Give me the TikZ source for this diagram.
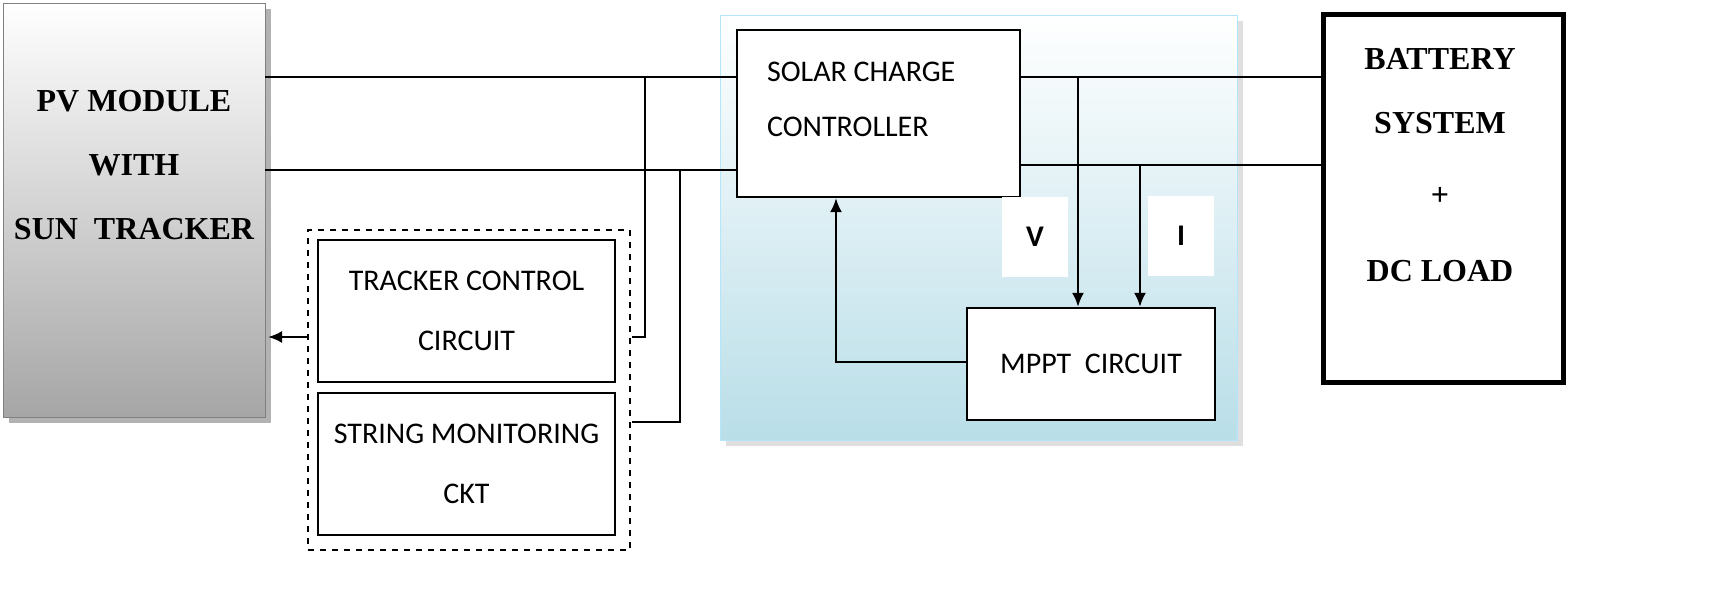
\documentclass[tikz,border=0pt]{standalone}
\usepackage{fontspec}
\setmainfont{Carlito}
\newfontfamily\bserif{Liberation Serif}
\usetikzlibrary{arrows.meta}
\definecolor{pbl}{RGB}{185,222,232}
\begin{document}
\begin{tikzpicture}[x=0.5pt,y=-0.5pt,
  wire/.style={line width=1.2pt},
  blk/.style={draw,line width=1.1pt,fill=white},
  lbl/.style={font=\fontsize{15}{18}\selectfont,align=center},
  blbl/.style={font=\bserif\bfseries\fontsize{16}{18}\selectfont},
  arr/.style={wire,-{Latex[length=7pt,width=6pt]}}]
% PV module
\fill[gray!60] (9,9) rectangle (271,423);
\node[draw=gray,top color=white,bottom color=gray!70,minimum width=131pt,minimum height=207pt,inner sep=0pt] (pv) at (134,210) {};
\node[blbl,align=center] (pvt) at (134,165) {PV MODULE\\[14pt]WITH\\[14pt]SUN\ \ TRACKER};
% blue panel
\fill[gray!25] (726,21) rectangle (1243,446);
\node[draw=cyan!30,top color=white,bottom color=pbl,minimum width=258.5pt,minimum height=212.5pt,inner sep=0pt] (panel) at (978.5,227.5) {};
% solar charge controller
\node[blk,minimum width=141.5pt,minimum height=83.5pt] (scc) at (878.5,113.5) {};
\node[lbl,anchor=west] at (760,72) {SOLAR CHARGE};
\node[lbl,anchor=west] at (760,127) {CONTROLLER};
% MPPT
\node[blk,minimum width=124pt,minimum height=56pt,lbl] (mppt) at (1091,364) {MPPT\ \ CIRCUIT};
% V and I labels
\node[fill=white,minimum width=33pt,minimum height=40pt,lbl,font=\bfseries\fontsize{15}{18}\selectfont] (v) at (1035,237) {V};
\node[fill=white,minimum width=33pt,minimum height=40pt,lbl,font=\bfseries\fontsize{15}{18}\selectfont] (i) at (1181,236) {I};
% battery
\node[draw,line width=2.5pt,minimum width=120pt,minimum height=184pt,inner sep=0pt] (bat) at (1443,198.5) {};
\node[blbl,align=center] (batt) at (1440,165) {BATTERY\\[14pt]SYSTEM\\[18pt]+\\[20pt]DC LOAD};
% dashed group
\node[draw,dashed,line width=1.1pt,minimum width=161pt,minimum height=160pt,inner sep=0pt] (grp) at (469,390) {};
\node[blk,minimum width=148.5pt,minimum height=71pt,lbl] (tcc) at (466.5,311) {TRACKER CONTROL\\[12pt]CIRCUIT};
\node[blk,minimum width=148.5pt,minimum height=71pt,lbl] (smc) at (466.5,464) {STRING MONITORING\\[12pt]CKT};
% coordinates
\coordinate (a1) at (645,77);
\coordinate (a2) at (645,337);
\coordinate (b1) at (680,170);
\coordinate (b2) at (680,422);
\coordinate (c1) at (1078,77);
\coordinate (d1) at (1140,165);
\coordinate (f1) at (836,362);
% wires
\draw[wire] (pv.east |- 0,77) -- (scc.west |- 0,77);
\draw[wire] (pv.east |- 0,170) -- (scc.west |- 0,170);
\draw[wire] (a1) -- (a2) -- (632,337);
\draw[wire] (b1) -- (b2) -- (632,422);
\draw[arr] (grp.west |- 0,337) -- (268,337);
\draw[wire] (scc.east |- 0,77) -- (bat.west |- 0,77);
\draw[wire] (scc.east |- 0,165) -- (bat.west |- 0,165);
\draw[arr] (c1) -- (c1 |- mppt.north);
\draw[arr] (d1) -- (d1 |- mppt.north);
\draw[arr] (mppt.west |- f1) -- (f1) -- (f1 |- scc.south);
\pgfresetboundingbox
\useasboundingbox (0,0) rectangle (1718,608);
\end{tikzpicture}
\end{document}
